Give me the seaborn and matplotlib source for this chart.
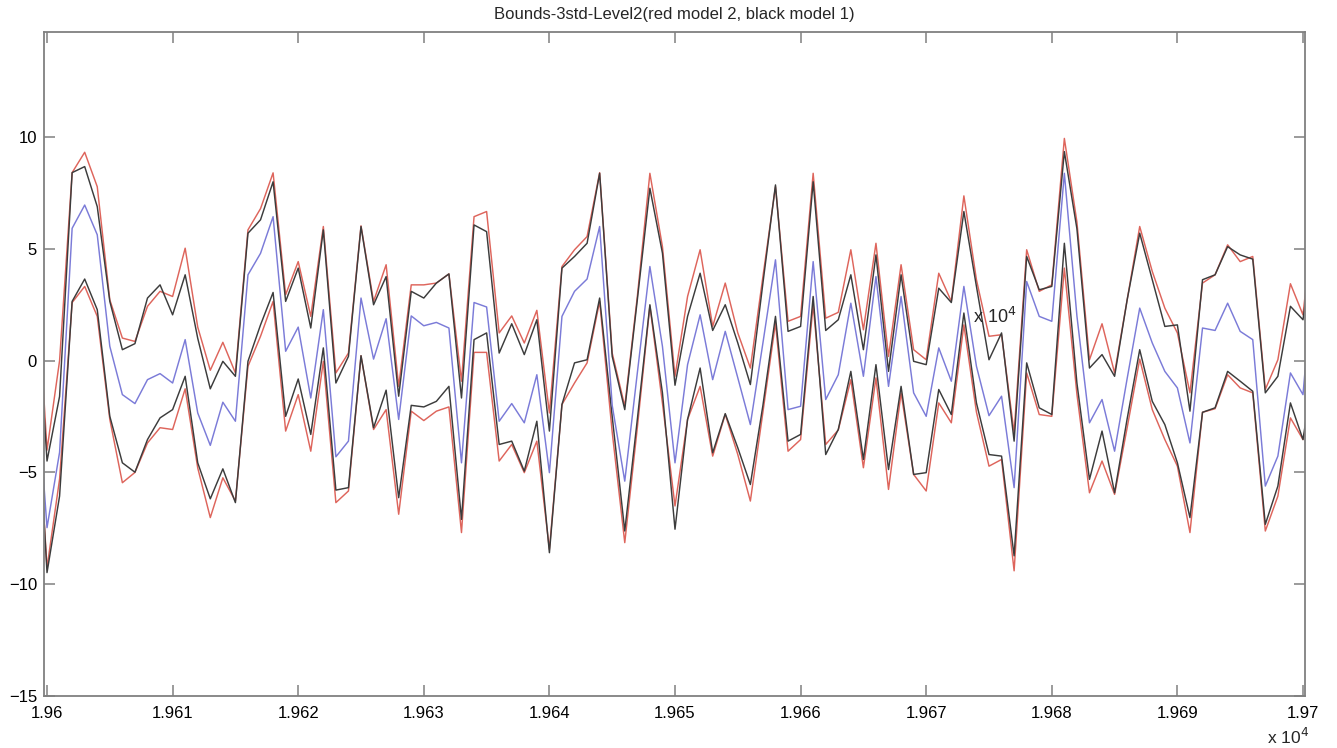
import matplotlib
matplotlib.use("Agg")
import matplotlib.pyplot as plt
import seaborn as sns
import numpy as np
import pandas as pd

x_start = 19599
x_end = 19701

black_upper = [4.5, -4.49, -1.6, 8.41, 8.68, 6.89, 2.65, 0.49, 0.76, 2.8, 3.39,
               2.05, 3.84, 1.0, -1.26, -0.03, -0.7, 5.7, 6.3, 8.0, 2.65,
               4.14, 1.46, 5.85, -1.0, 0.19, 6.0, 2.5, 3.76, -1.59, 3.1,
               2.8, 3.47, 3.88, -1.67, 6.07, 5.77, 0.34, 1.65, 0.27, 1.83,
               -3.15, 4.14, 4.66, 5.25, 8.38, 0.19, -2.19, 2.72, 7.71, 4.81,
               -1.1, 1.98, 3.91, 1.35, 2.5, 0.79, -1.07, 3.47, 7.86, 1.31,
               1.53, 8.0, 1.35, 1.83, 3.84, 0.49, 4.73, -0.48, 3.84, -0.03,
               -0.18, 3.24, 2.6, 6.67, 3.32, 0.04, 1.24, -3.6, 4.66, 3.17,
               3.32, 9.35, 5.9, -0.33, 0.27, -0.7, 2.72, 5.7, 3.62, 1.53,
               1.6, -2.26, 3.62, 3.84, 5.1, 4.73, 4.54, -1.44, -0.7, 2.43,
               1.83, 6.0]

red_upper = [5.4, -4.0, 0.0, 8.41, 9.32, 7.78, 2.72, 1.01, 0.86, 2.43, 3.1,
             2.87, 5.03, 1.5, -0.43, 0.82, -0.55, 5.85, 6.8, 8.4, 2.95,
             4.43, 1.98, 6.0, -0.55, 0.34, 6.03, 2.65, 4.29, -1.15, 3.39,
             3.39, 3.47, 3.88, -0.92, 6.44, 6.67, 1.24, 2.0, 0.79, 2.25,
             -2.34, 4.21, 4.96, 5.55, 8.41, 0.34, -2.04, 2.87, 8.38, 5.1,
             -0.7, 2.87, 4.96, 1.53, 3.47, 1.24, -0.33, 3.76, 7.78, 1.76,
             1.98, 8.38, 1.9, 2.16, 4.96, 1.38, 5.25, 0.19, 4.29, 0.49,
             0.04, 3.91, 2.65, 7.37, 3.62, 1.09, 1.16, -3.23, 4.96, 3.1,
             3.39, 9.94, 6.2, 0.04, 1.65, -0.55, 2.72, 6.0, 3.99, 2.35,
             1.24, -1.44, 3.47, 3.84, 5.18, 4.43, 4.66, -1.29, 0.04, 3.44,
             2.05, 7.2]

blue_mean = [0.3, -7.47, -4.1, 5.92, 6.96, 5.63, 0.64, -1.52, -1.92, -0.85, -0.58,
             -1.0, 0.94, -2.34, -3.79, -1.86, -2.71, 3.84, 4.8, 6.44, 0.42,
             1.5, -1.67, 2.28, -4.3, -3.6, 2.8, 0.07, 1.875, -2.63, 2.0,
             1.56, 1.71, 1.46, -4.57, 2.6, 2.4, -2.71, -1.92, -2.78, -0.63,
             -5.01, 1.98, 3.1, 3.65, 6.0, -2.0, -5.39, -0.55, 4.21, 0.64,
             -4.57, -0.18, 2.05, -0.85, 1.31, -0.77, -2.86, 0.79, 4.51, -2.19,
             -2.04, 4.43, -1.74, -0.63, 2.57, -0.7, 3.76, -1.15, 2.87, -1.44,
             -2.49, 0.57, -0.92, 3.32, -0.25, -2.46, -1.59, -5.68, 3.54, 1.98,
             1.76, 8.38, 2.0, -2.78, -1.74, -4.05, -0.8, 2.35, 0.79, -0.48,
             -1.22, -3.68, 1.46, 1.35, 2.57, 1.31, 0.94, -5.61, -4.27, -0.55,
             -1.52, 5.0]

black_lower = [0.5, -9.48, -6.06, 2.65, 3.65, 2.28, -2.49, -4.57, -4.99, -3.53, -2.56,
               -2.19, -0.7, -4.57, -6.18, -4.84, -6.35, -0.03, 1.6, 3.05, -2.49,
               -0.82, -3.3, 0.57, -5.79, -5.68, 0.22, -3.0, -1.32, -6.13, -2.0,
               -2.07, -1.82, -1.15, -7.1, 0.94, 1.24, -3.75, -3.6, -4.94, -2.71,
               -8.59, -1.96, -0.1, 0.04, 2.8, -2.5, -7.62, -2.63, 2.5, -1.44,
               -7.54, -2.63, -0.33, -4.12, -2.37, -3.9, -5.54, -2.0, 1.98, -3.6,
               -3.3, 2.87, -4.2, -3.08, -0.48, -4.42, -0.18, -4.87, -1.15, -5.09,
               -5.01, -1.29, -2.41, 2.13, -1.89, -4.2, -4.27, -8.73, -0.1, -2.11,
               -2.41, 5.25, -1.0, -5.31, -3.15, -5.91, -2.6, 0.49, -1.82, -2.86,
               -4.57, -7.02, -2.31, -2.11, -0.48, -0.92, -1.37, -7.32, -5.61, -1.89,
               -3.53, 0.2]

red_lower = [0.0, -9.26, -5.3, 2.6, 3.32, 1.98, -2.63, -5.46, -5.0, -3.68, -3.0,
             -3.08, -1.26, -4.8, -7.02, -5.24, -6.28, -0.25, 1.09, 2.65, -3.15,
             -1.52, -4.05, -0.03, -6.35, -5.83, 0.22, -3.08, -2.19, -6.87, -2.26,
             -2.68, -2.26, -2.07, -7.69, 0.37, 0.37, -4.49, -3.75, -5.01, -3.6,
             -8.44, -1.96, -1.0, -0.1, 2.65, -3.2, -8.14, -3.0, 2.45, -1.9,
             -6.5, -2.63, -1.15, -4.27, -2.4, -4.2, -6.28, -2.3, 1.68, -4.05,
             -3.53, 2.5, -3.75, -3.1, -0.85, -4.79, -0.77, -5.76, -1.44, -5.09,
             -5.83, -1.89, -2.78, 1.6, -2.3, -4.72, -4.42, -9.4, -0.55, -2.41,
             -2.49, 4.14, -1.5, -5.91, -4.49, -5.98, -3.0, 0.07, -2.19, -3.53,
             -4.72, -7.69, -2.31, -2.15, -0.63, -1.22, -1.44, -7.62, -6.06, -2.56,
             -3.53, -1.2]

x_ticks = [19600, 19610, 19620, 19630, 19640, 19650, 19660, 19670, 19680, 19690, 19700]
x_tick_labels = ["1.96", "1.961", "1.962", "1.963", "1.964", "1.965",
                 "1.966", "1.967", "1.968", "1.969", "1.97"]
y_ticks = [-15, -10, -5, 0, 5, 10]
title = "Bounds-3std-Level2(red model 2, black model 1)"

sns.set_theme(style="white")
plt.rcParams['font.family'] = ['Liberation Sans', 'DejaVu Sans']

xs = np.arange(x_start, x_end + 1)
df = pd.DataFrame({"x": xs, "ru": red_upper, "rl": red_lower,
                   "bu": black_upper, "bl": black_lower, "m": blue_mean})

fig = plt.figure(figsize=(13.37, 7.48), dpi=100)
ax = fig.add_axes([44 / 1337, 52 / 748, (1305 - 44) / 1337, (696 - 32) / 748])

red_c = "#de655c"
black_c = "#3c3c3c"
blue_c = "#7b7bd8"
lw = 1.05
sns.lineplot(data=df, x="x", y="ru", ax=ax, color=red_c, lw=lw, estimator=None, sort=False)
sns.lineplot(data=df, x="x", y="rl", ax=ax, color=red_c, lw=lw, estimator=None, sort=False)
sns.lineplot(data=df, x="x", y="bu", ax=ax, color=black_c, lw=lw, estimator=None, sort=False)
sns.lineplot(data=df, x="x", y="bl", ax=ax, color=black_c, lw=lw, estimator=None, sort=False)
sns.lineplot(data=df, x="x", y="m", ax=ax, color=blue_c, lw=lw, estimator=None, sort=False)

ax.set_xlim(19599.76, 19700.16)
ax.set_ylim(-15, 14.7)
ax.set_xticks(x_ticks)
ax.set_xticklabels(x_tick_labels)
ax.set_yticks(y_ticks)
ax.set_xlabel("")
ax.set_ylabel("")
spine_c = "#808080"
for s in ax.spines.values():
    s.set_visible(True)
    s.set_color(spine_c)
    s.set_linewidth(1.3)
ax.tick_params(axis="both", direction="in", length=8, width=1.1, color=spine_c,
               labelsize=12, labelcolor="black", top=True, right=True,
               bottom=True, left=True)
ax.tick_params(axis="x", pad=7)
ax.tick_params(axis="y", pad=5)
ax.set_title(title, fontsize=12, pad=9)

fig.text(1288 / 1337, 1 - 737 / 748, "x 10$^{4}$", ha="center", va="center", fontsize=12.5)
fig.text(995 / 1337, 1 - 317 / 748, "x 10$^{4}$", ha="center", va="center", fontsize=13)

fig.savefig("out.png", dpi=100)
